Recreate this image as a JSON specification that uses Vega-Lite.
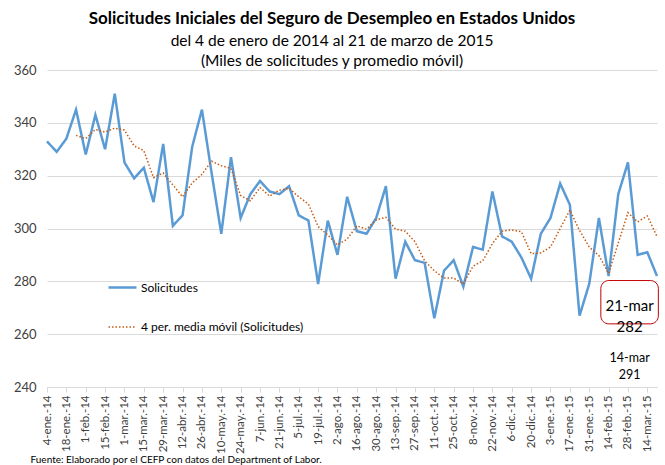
{
  "$schema": "https://vega.github.io/schema/vega-lite/v6.json",
  "width": 610,
  "height": 317,
  "autosize": {"type": "none"},
  "padding": {"left": 47, "top": 70, "right": 8, "bottom": 78},
  "background": "white",
  "config": {"font": "Lato", "view": {"stroke": null}},
  "title": {
    "text": "Solicitudes Iniciales del Seguro de Desempleo en Estados Unidos",
    "subtitle": ["del 4 de enero de 2014 al 21 de marzo de 2015", "(Miles de solicitudes y promedio móvil)"],
    "fontSize": 17,
    "fontWeight": "bold",
    "color": "#000000",
    "subtitleFontSize": 15.5,
    "subtitleColor": "#000000",
    "subtitleLineHeight": 20,
    "subtitlePadding": 6,
    "anchor": "middle",
    "frame": "group",
    "dx": -20,
    "offset": -6
  },
  "layer": [
    {
      "data": {
        "values": [
          {"semana": 0, "fecha": "4-ene.-14", "sol": 333},
          {"semana": 1, "fecha": "11-ene.-14", "sol": 329},
          {"semana": 2, "fecha": "18-ene.-14", "sol": 334},
          {"semana": 3, "fecha": "25-ene.-14", "sol": 345, "mm": 335.25},
          {"semana": 4, "fecha": "1-feb.-14", "sol": 328, "mm": 334},
          {"semana": 5, "fecha": "8-feb.-14", "sol": 343, "mm": 337.5},
          {"semana": 6, "fecha": "15-feb.-14", "sol": 330, "mm": 336.5},
          {"semana": 7, "fecha": "22-feb.-14", "sol": 351, "mm": 338},
          {"semana": 8, "fecha": "1-mar.-14", "sol": 325, "mm": 337.25},
          {"semana": 9, "fecha": "8-mar.-14", "sol": 319, "mm": 331.25},
          {"semana": 10, "fecha": "15-mar.-14", "sol": 323, "mm": 329.5},
          {"semana": 11, "fecha": "22-mar.-14", "sol": 310, "mm": 319.25},
          {"semana": 12, "fecha": "29-mar.-14", "sol": 332, "mm": 321},
          {"semana": 13, "fecha": "5-abr.-14", "sol": 301, "mm": 316.5},
          {"semana": 14, "fecha": "12-abr.-14", "sol": 305, "mm": 312},
          {"semana": 15, "fecha": "19-abr.-14", "sol": 331, "mm": 317.25},
          {"semana": 16, "fecha": "26-abr.-14", "sol": 345, "mm": 320.5},
          {"semana": 17, "fecha": "3-may.-14", "sol": 321, "mm": 325.5},
          {"semana": 18, "fecha": "10-may.-14", "sol": 298, "mm": 323.75},
          {"semana": 19, "fecha": "17-may.-14", "sol": 327, "mm": 322.75},
          {"semana": 20, "fecha": "24-may.-14", "sol": 304, "mm": 312.5},
          {"semana": 21, "fecha": "31-may.-14", "sol": 313, "mm": 310.5},
          {"semana": 22, "fecha": "7-jun.-14", "sol": 318, "mm": 315.5},
          {"semana": 23, "fecha": "14-jun.-14", "sol": 314, "mm": 312.25},
          {"semana": 24, "fecha": "21-jun.-14", "sol": 313, "mm": 314.5},
          {"semana": 25, "fecha": "28-jun.-14", "sol": 316, "mm": 315.25},
          {"semana": 26, "fecha": "5-jul.-14", "sol": 305, "mm": 312},
          {"semana": 27, "fecha": "12-jul.-14", "sol": 303, "mm": 309.25},
          {"semana": 28, "fecha": "19-jul.-14", "sol": 279, "mm": 300.75},
          {"semana": 29, "fecha": "26-jul.-14", "sol": 303, "mm": 297.5},
          {"semana": 30, "fecha": "2-ago.-14", "sol": 290, "mm": 293.75},
          {"semana": 31, "fecha": "9-ago.-14", "sol": 312, "mm": 296},
          {"semana": 32, "fecha": "16-ago.-14", "sol": 299, "mm": 301},
          {"semana": 33, "fecha": "23-ago.-14", "sol": 298, "mm": 299.75},
          {"semana": 34, "fecha": "30-ago.-14", "sol": 304, "mm": 303.25},
          {"semana": 35, "fecha": "6-sep.-14", "sol": 316, "mm": 304.25},
          {"semana": 36, "fecha": "13-sep.-14", "sol": 281, "mm": 299.75},
          {"semana": 37, "fecha": "20-sep.-14", "sol": 295, "mm": 299},
          {"semana": 38, "fecha": "27-sep.-14", "sol": 288, "mm": 295},
          {"semana": 39, "fecha": "4-oct.-14", "sol": 287, "mm": 287.75},
          {"semana": 40, "fecha": "11-oct.-14", "sol": 266, "mm": 284},
          {"semana": 41, "fecha": "18-oct.-14", "sol": 284, "mm": 281.25},
          {"semana": 42, "fecha": "25-oct.-14", "sol": 288, "mm": 281.25},
          {"semana": 43, "fecha": "1-nov.-14", "sol": 278, "mm": 279},
          {"semana": 44, "fecha": "8-nov.-14", "sol": 293, "mm": 285.75},
          {"semana": 45, "fecha": "15-nov.-14", "sol": 292, "mm": 287.75},
          {"semana": 46, "fecha": "22-nov.-14", "sol": 314, "mm": 294.25},
          {"semana": 47, "fecha": "29-nov.-14", "sol": 297, "mm": 299},
          {"semana": 48, "fecha": "6-dic.-14", "sol": 295, "mm": 299.5},
          {"semana": 49, "fecha": "13-dic.-14", "sol": 289, "mm": 298.75},
          {"semana": 50, "fecha": "20-dic.-14", "sol": 281, "mm": 290.5},
          {"semana": 51, "fecha": "27-dic.-14", "sol": 298, "mm": 290.75},
          {"semana": 52, "fecha": "3-ene.-15", "sol": 304, "mm": 293},
          {"semana": 53, "fecha": "10-ene.-15", "sol": 317, "mm": 300},
          {"semana": 54, "fecha": "17-ene.-15", "sol": 309, "mm": 307},
          {"semana": 55, "fecha": "24-ene.-15", "sol": 267, "mm": 299.25},
          {"semana": 56, "fecha": "31-ene.-15", "sol": 279, "mm": 293},
          {"semana": 57, "fecha": "7-feb.-15", "sol": 304, "mm": 289.75},
          {"semana": 58, "fecha": "14-feb.-15", "sol": 282, "mm": 283},
          {"semana": 59, "fecha": "21-feb.-15", "sol": 313, "mm": 294.5},
          {"semana": 60, "fecha": "28-feb.-15", "sol": 325, "mm": 306},
          {"semana": 61, "fecha": "7-mar.-15", "sol": 290, "mm": 302.5},
          {"semana": 62, "fecha": "14-mar.-15", "sol": 291, "mm": 304.75},
          {"semana": 63, "fecha": "21-mar.-15", "sol": 282, "mm": 297}
        ]
      },
      "transform": [{"fold": ["sol", "mm"], "as": ["serie", "valor"]}],
      "mark": {"type": "line", "strokeCap": "butt"},
      "encoding": {
        "x": {
          "field": "semana",
          "type": "quantitative",
          "scale": {"domain": [0, 63], "nice": false, "zero": false},
          "axis": {
            "values": [0, 2, 4, 6, 8, 10, 12, 14, 16, 18, 20, 22, 24, 26, 28, 30, 32, 34, 36, 38, 40, 42, 44, 46, 48, 50, 52, 54, 56, 58, 60, 62],
            "tickCount": 100,
            "labelExpr": "['4-ene.-14','18-ene.-14','1-feb.-14','15-feb.-14','1-mar.-14','15-mar.-14','29-mar.-14','12-abr.-14','26-abr.-14','10-may.-14','24-may.-14','7-jun.-14','21-jun.-14','5-jul.-14','19-jul.-14','2-ago.-14','16-ago.-14','30-ago.-14','13-sep.-14','27-sep.-14','11-oct.-14','25-oct.-14','8-nov.-14','22-nov.-14','6-dic.-14','20-dic.-14','3-ene.-15','17-ene.-15','31-ene.-15','14-feb.-15','28-feb.-15','14-mar.-15'][round(datum.value/2)]",
            "labelAngle": -90,
            "labelFontSize": 11.5,
            "labelColor": "#404040",
            "labelPadding": 3,
            "labelOverlap": false,
            "labelBound": false,
            "labelFlush": false,
            "grid": false,
            "domainColor": "#d9d9d9",
            "tickColor": "#d9d9d9",
            "tickSize": 5,
            "title": "Fuente: Elaborado por el CEFP con datos del Department of Labor.",
            "titleFontSize": 10,
            "titleFontWeight": "normal",
            "titleColor": "#000000",
            "titleAnchor": "start",
            "titleAlign": "left",
            "titleBaseline": "top",
            "titleX": -17,
            "titleY": 67
          }
        },
        "y": {
          "field": "valor",
          "type": "quantitative",
          "scale": {"domain": [240, 360], "nice": false, "zero": false},
          "axis": {
            "values": [240, 260, 280, 300, 320, 340, 360],
            "title": null,
            "domain": false,
            "ticks": false,
            "grid": true,
            "gridColor": "#d9d9d9",
            "labelFontSize": 13,
            "labelColor": "#404040",
            "labelPadding": 11
          }
        },
        "color": {
          "field": "serie",
          "type": "nominal",
          "scale": {"domain": ["sol", "mm"], "range": ["#5B9BD5", "#C55A11"]},
          "legend": {
            "orient": "none",
            "legendX": 60,
            "legendY": 202,
            "direction": "vertical",
            "title": null,
            "symbolType": "stroke",
            "symbolSize": 784,
            "rowPadding": 18,
            "labelFontSize": 12,
            "labelColor": "#000000",
            "labelOffset": 3,
            "labelLimit": 400,
            "labelExpr": "datum.value == 'sol' ? 'Solicitudes' : '4 per. media móvil (Solicitudes)'"
          }
        },
        "strokeDash": {
          "field": "serie",
          "type": "nominal",
          "scale": {"domain": ["sol", "mm"], "range": [[1, 0], [1.5, 2]]},
          "legend": null
        },
        "strokeWidth": {
          "field": "serie",
          "type": "ordinal",
          "scale": {"domain": ["sol", "mm"], "range": [2.5, 1.5]},
          "legend": null
        }
      }
    },
    {
      "data": {"values": [{}]},
      "mark": {"type": "rect", "fill": "white", "stroke": "#C00000", "strokeWidth": 1, "cornerRadius": 8},
      "encoding": {
        "x": {"datum": 57.2, "type": "quantitative"},
        "x2": {"datum": 63.14},
        "y": {"datum": 280.3, "type": "quantitative"},
        "y2": {"datum": 263.9}
      }
    },
    {
      "data": {"values": [{}]},
      "mark": {"type": "text", "text": ["21-mar", "282"], "fontSize": 15, "lineHeight": 21, "align": "center", "baseline": "middle", "color": "#000000"},
      "encoding": {
        "x": {"datum": 60.17, "type": "quantitative"},
        "y": {"datum": 270.8, "type": "quantitative"}
      }
    },
    {
      "data": {"values": [{}]},
      "mark": {"type": "text", "text": ["14-mar", "291"], "fontSize": 12.5, "lineHeight": 17, "align": "center", "baseline": "middle", "color": "#000000"},
      "encoding": {
        "x": {"datum": 60.18, "type": "quantitative"},
        "y": {"datum": 251, "type": "quantitative"}
      }
    }
  ]
}
